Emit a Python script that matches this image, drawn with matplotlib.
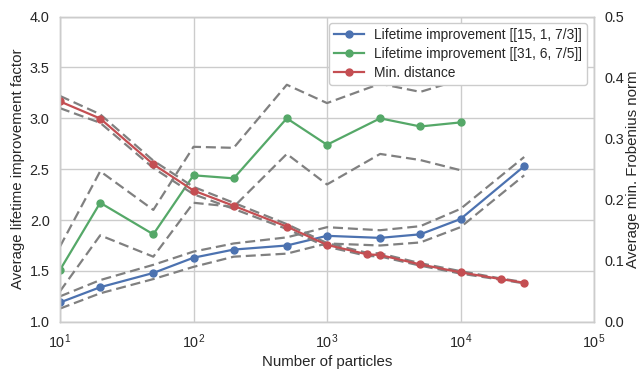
import matplotlib
matplotlib.use('Agg')
import matplotlib.pyplot as plt

plt.rcParams['font.family'] = ['Liberation Sans', 'DejaVu Sans']
plt.rcParams['font.size'] = 10.5

# Lifetime improvement [[15, 1, 7/3]]
n_15 = [10, 20, 50, 100, 200, 500, 1000, 2500, 5000, 10000, 30000]
life_15 = [1.19, 1.34, 1.48, 1.63, 1.71, 1.75, 1.845, 1.825, 1.86, 2.01, 2.53]
life_15_hi = [1.25, 1.41, 1.56, 1.69, 1.77, 1.83, 1.93, 1.90, 1.94, 2.11, 2.62]
life_15_lo = [1.13, 1.28, 1.42, 1.54, 1.64, 1.67, 1.77, 1.75, 1.78, 1.93, 2.44]

# Lifetime improvement [[31, 6, 7/5]]
n_31 = [10, 20, 50, 100, 200, 500, 1000, 2500, 5000, 10000]
life_31 = [1.51, 2.17, 1.86, 2.44, 2.41, 3.00, 2.74, 3.00, 2.92, 2.96]
life_31_hi = [1.74, 2.48, 2.10, 2.72, 2.71, 3.33, 3.15, 3.34, 3.26, 3.38]
life_31_lo = [1.30, 1.85, 1.64, 2.17, 2.13, 2.65, 2.35, 2.65, 2.59, 2.49]

# Min. distance (right axis)
n_dist = [10, 20, 50, 100, 200, 500, 1000, 2000, 2500, 5000, 10000, 20000, 30000]
dist = [0.361, 0.333, 0.258, 0.215, 0.190, 0.156, 0.126, 0.1105, 0.1094, 0.094, 0.081, 0.070, 0.064]
dist_hi = [0.370, 0.340, 0.264, 0.221, 0.195, 0.160, 0.129, 0.113, 0.112, 0.096, 0.083, 0.071, 0.065]
dist_lo = [0.350, 0.326, 0.252, 0.209, 0.185, 0.152, 0.123, 0.108, 0.107, 0.092, 0.079, 0.069, 0.063]

xticks = [10, 100, 1000, 10000, 100000]
yticks_left = [1.0, 1.5, 2.0, 2.5, 3.0, 3.5, 4.0]
yticks_right = [0.0, 0.1, 0.2, 0.3, 0.4, 0.5]

BLUE = '#4C72B0'
GREEN = '#55A868'
RED = '#C44E52'
GRAY = '#808080'
SPINE = '#cccccc'
TXT = '#262626'

fig = plt.figure(figsize=(6.41, 3.69), dpi=100)
ax = fig.add_axes([60/641, 1-321.8/369, (594-60)/641, (321.8-16.6)/369])
ax2 = ax.twinx()

dash_kw = dict(color=GRAY, lw=1.6, dashes=(4.5, 2.2))
ax.plot(n_15, life_15_hi, **dash_kw)
ax.plot(n_15, life_15_lo, **dash_kw)
ax.plot(n_31, life_31_hi, **dash_kw)
ax.plot(n_31, life_31_lo, **dash_kw)
h1, = ax.plot(n_15, life_15, '-o', color=BLUE, lw=1.6, ms=5,
              label='Lifetime improvement [[15, 1, 7/3]]')
h2, = ax.plot(n_31, life_31, '-o', color=GREEN, lw=1.6, ms=5,
              label='Lifetime improvement [[31, 6, 7/5]]')

ax2.plot(n_dist, dist_hi, **dash_kw)
ax2.plot(n_dist, dist_lo, **dash_kw)
h3, = ax2.plot(n_dist, dist, '-o', color=RED, lw=1.6, ms=5, label='Min. distance')

ax.set_xscale('log')
ax.set_xlim(10, 100000)
ax.set_xticks(xticks)
ax.set_ylim(1.0, 4.0)
ax.set_yticks(yticks_left)
ax2.set_ylim(0.0, 0.5)
ax2.set_yticks(yticks_right)
ax.xaxis.set_minor_locator(matplotlib.ticker.NullLocator())

ax.grid(True, color=SPINE, lw=1.0)
ax.set_axisbelow(True)
ax2.grid(False)

for a in (ax, ax2):
    for s in a.spines.values():
        s.set_color(SPINE)
        s.set_linewidth(1.0)
    a.tick_params(length=0, colors=TXT, labelsize=10.4, pad=7.5)

ax.set_xlabel('Number of particles', color=TXT, fontsize=10.8, labelpad=3)
ax.set_ylabel('Average lifetime improvement factor', color=TXT, fontsize=10.8, labelpad=3)
ax2.set_ylabel('Average min. Frobenius norm', color=TXT, fontsize=10.8, labelpad=1)

leg = ax2.legend(handles=[h1, h2, h3], loc='upper right', frameon=True,
                 fancybox=True, edgecolor=SPINE, framealpha=1.0,
                 fontsize=9.9, handlelength=2.2, handletextpad=0.75,
                 borderpad=0.35, labelspacing=0.35)
for t in leg.get_texts():
    t.set_color(TXT)

fig.savefig('out.png', dpi=100)
